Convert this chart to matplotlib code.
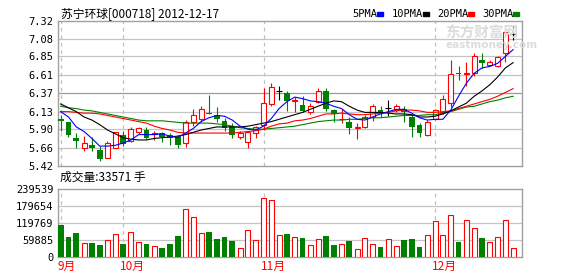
import numpy as np
import matplotlib
matplotlib.use("Agg")
import matplotlib.pyplot as plt

# daily K-line data, 2012-09-19 .. 2012-12-17
opens = [6.03, 5.99, 5.79, 5.66, 5.70, 5.63, 5.53, 5.66, 5.83, 5.74,
         5.86, 5.89, 5.84, 5.85, 5.83, 5.80, 5.72, 5.99, 6.03, 6.11,
         6.08, 6.01, 5.94, 5.80, 5.73, 5.85, 5.96, 6.23, 6.40, 6.37,
         6.27, 6.22, 6.12, 6.26, 6.40, 6.15, 6.03, 5.99, 5.92, 5.93,
         6.06, 6.15, 6.18, 6.15, 6.16, 6.06, 5.96, 5.83, 6.03, 6.12,
         6.24, 6.63, 6.62, 6.63, 6.81, 6.74, 6.72, 6.90, 7.14]
highs = [6.09, 5.99, 5.85, 5.81, 5.80, 5.68, 5.74, 5.87, 5.88, 5.93,
         5.93, 5.93, 5.88, 5.87, 5.85, 5.83, 6.02, 6.17, 6.20, 6.35,
         6.19, 6.05, 5.98, 5.88, 5.88, 5.94, 6.44, 6.50, 6.46, 6.40,
         6.32, 6.33, 6.24, 6.44, 6.44, 6.17, 6.17, 6.06, 5.98, 6.09,
         6.23, 6.20, 6.28, 6.23, 6.20, 6.09, 5.98, 6.02, 6.17, 6.35,
         6.80, 6.72, 6.78, 6.90, 6.90, 6.81, 6.86, 7.19, 7.25]
lows = [5.88, 5.80, 5.66, 5.61, 5.62, 5.49, 5.52, 5.66, 5.68, 5.73,
        5.84, 5.77, 5.76, 5.73, 5.70, 5.65, 5.67, 5.94, 6.00, 6.10,
        5.99, 5.88, 5.79, 5.77, 5.66, 5.78, 5.89, 6.20, 6.28, 6.14,
        6.12, 6.13, 6.10, 6.24, 6.14, 6.00, 5.98, 5.84, 5.77, 5.91,
        6.01, 6.06, 6.07, 6.12, 6.00, 5.80, 5.80, 5.81, 6.02, 6.10,
        6.19, 6.54, 6.46, 6.59, 6.70, 6.73, 6.71, 6.78, 7.07]
closes = [6.01, 5.82, 5.74, 5.72, 5.66, 5.51, 5.72, 5.86, 5.71, 5.90,
          5.91, 5.78, 5.85, 5.80, 5.78, 5.69, 5.99, 6.08, 6.16, 6.10,
          6.04, 5.91, 5.83, 5.85, 5.86, 5.93, 6.24, 6.45, 6.40, 6.27,
          6.28, 6.14, 6.21, 6.40, 6.16, 6.10, 6.04, 5.92, 5.93, 6.06,
          6.21, 6.11, 6.18, 6.21, 6.12, 5.93, 5.85, 5.99, 6.15, 6.30,
          6.62, 6.62, 6.63, 6.86, 6.77, 6.78, 6.84, 7.17, 7.14]
volumes = [113300, 71300, 86500, 50200, 51400, 43200, 60800, 81800, 47900, 88800,
           53800, 46700, 38600, 32700, 46700, 74800, 168300, 140200, 85300, 88800,
           64300, 71300, 57300, 31500, 94700, 59600, 206800, 199800, 77100, 81800,
           70100, 66600, 42100, 63100, 74800, 42100, 45600, 57300, 28000, 66600,
           45600, 36200, 63100, 38600, 60800, 64300, 36200, 77100, 126200, 77100,
           147200, 53800, 129700, 101700, 66600, 53800, 70100, 129700, 33571]

# moving averages as shown on the chart
ma5 = [6.13, 6.06, 5.93, 5.87, 5.78, 5.68, 5.68, 5.69, 5.72, 5.76, 5.83, 5.83,
       5.83, 5.84, 5.81, 5.79, 5.85, 5.91, 6.00, 6.05, 6.08, 6.07, 6.02, 5.94,
       5.90, 5.89, 5.94, 6.04, 6.17, 6.26, 6.32, 6.30, 6.27, 6.26, 6.24, 6.20,
       6.17, 6.09, 6.03, 6.02, 6.06, 6.10, 6.13, 6.16, 6.16, 6.11, 6.05, 6.02,
       6.03, 6.03, 6.15, 6.33, 6.50, 6.63, 6.70, 6.72, 6.76, 6.85, 6.94]
ma10 = [6.23, 6.18, 6.13, 6.06, 6.02, 5.96, 5.89, 5.84, 5.79, 5.77, 5.76, 5.76,
        5.78, 5.79, 5.80, 5.81, 5.83, 5.86, 5.89, 5.91, 5.93, 5.93, 5.93, 5.93,
        5.94, 5.96, 5.98, 6.00, 6.03, 6.06, 6.09, 6.12, 6.16, 6.20, 6.24, 6.27,
        6.26, 6.20, 6.15, 6.12, 6.12, 6.12, 6.11, 6.10, 6.10, 6.09, 6.06, 6.06,
        6.07, 6.10, 6.14, 6.19, 6.24, 6.33, 6.40, 6.48, 6.58, 6.70, 6.77]
ma20 = [6.13, 6.13, 6.12, 6.11, 6.11, 6.10, 6.08, 6.06, 6.04, 6.02, 6.00, 5.98,
        5.94, 5.91, 5.89, 5.86, 5.85, 5.85, 5.85, 5.85, 5.85, 5.85, 5.85, 5.86,
        5.87, 5.88, 5.90, 5.94, 5.97, 5.98, 6.01, 6.02, 6.04, 6.07, 6.10, 6.10,
        6.11, 6.10, 6.09, 6.09, 6.10, 6.11, 6.12, 6.14, 6.15, 6.15, 6.14, 6.12,
        6.12, 6.13, 6.14, 6.17, 6.20, 6.23, 6.26, 6.29, 6.33, 6.38, 6.43]
ma30 = [6.20, 6.18, 6.17, 6.15, 6.14, 6.12, 6.10, 6.08, 6.06, 6.04, 6.02, 6.01,
        6.01, 6.01, 6.00, 5.99, 5.98, 5.98, 5.98, 5.98, 5.97, 5.96, 5.94, 5.92,
        5.91, 5.90, 5.90, 5.91, 5.92, 5.93, 5.94, 5.96, 5.98, 6.00, 6.01, 6.02,
        6.02, 6.03, 6.03, 6.04, 6.05, 6.05, 6.06, 6.07, 6.08, 6.08, 6.08, 6.09,
        6.09, 6.11, 6.13, 6.16, 6.19, 6.20, 6.23, 6.26, 6.28, 6.31, 6.33]

price_ticks = [5.42, 5.66, 5.90, 6.13, 6.37, 6.61, 6.85, 7.08, 7.32]
price_labels = ["5.42", "5.66", "5.90", "6.13", "6.37", "6.61", "6.85", "7.08", "7.32"]
vol_ticks = [0, 59885, 119769, 179654, 239539]
month_idx = [0, 8, 26, 48]
month_names = ["9月", "10月", "11月", "12月"]

RED = "#FF0000"
GREEN = "#008000"
GRID = "#C4C4C4"
BORDER = "#A0A0A0"
CJK = ["Noto Sans CJK SC", "DejaVu Sans"]
MONO = "DejaVu Sans Mono"

o = np.array(opens)
h = np.array(highs)
l = np.array(lows)
c = np.array(closes)
v = np.array(volumes)
x = np.arange(len(o))
up = c > o
down = c < o
flat = c == o

W, H = 578, 276
fig = plt.figure(figsize=(W / 100, H / 100), dpi=100, facecolor="white")


def px_axes(left, top, right, bottom):
    return fig.add_axes([left / W, 1 - bottom / H, (right - left) / W, (bottom - top) / H])


# price panel
ax = px_axes(57.5, 20.5, 522, 166)
vax = px_axes(57.5, 189, 522, 257.3)

for a in (ax, vax):
    a.set_xlim(-0.41, 59.14)
    a.set_xticks([])
    for s in a.spines.values():
        s.set_color(BORDER)
        s.set_linewidth(1)
    a.tick_params(axis="y", length=0, pad=3, labelsize=7.5)
    for t in a.get_yticklabels():
        t.set_fontfamily(MONO)
    for m in month_idx:
        a.axvline(m, color="#C0C0C0", lw=0.9, ls=(0, (3, 3)), zorder=0)

ax.set_ylim(5.42, 7.32)
ax.set_yticks(price_ticks)
ax.set_yticklabels(price_labels, fontfamily=MONO, fontsize=7.5)
for p in price_ticks[1:-1]:
    ax.axhline(p, color="#9A9A9A" if p == 6.37 else GRID, lw=0.9, zorder=0)

# watermark
fig.text(445 / W, 1 - 33 / H, "东方财富网", fontsize=10.5, fontweight="bold",
         color="#DCDCDC", family=CJK, va="center", ha="left", zorder=0)
fig.text(445 / W, 1 - 45 / H, "eastmoney.com", fontsize=7.5, fontweight="bold",
         color="#DCDCDC", va="center", ha="left", zorder=0)

# candles
ax.vlines(x[up], l[up], h[up], color=RED, lw=0.8, zorder=2)
ax.vlines(x[down], l[down], h[down], color=GREEN, lw=0.8, zorder=2)
ax.vlines(x[flat], l[flat], h[flat], color="black", lw=0.8, zorder=2)
ax.bar(x[up], c[up] - o[up], bottom=o[up], width=0.62, facecolor="white",
       edgecolor=RED, lw=0.8, zorder=3)
ax.bar(x[down], np.maximum(o[down] - c[down], 0.008), bottom=c[down], width=0.72,
       color=GREEN, lw=0, zorder=3)
ax.hlines(c[flat], x[flat] - 0.4, x[flat] + 0.4, color="black", lw=0.8, zorder=3)

# moving averages
ax.plot(x, ma30, color=GREEN, lw=0.8, zorder=4)
ax.plot(x, ma20, color=RED, lw=0.8, zorder=4)
ax.plot(x, ma10, color="black", lw=0.8, zorder=4)
ax.plot(x, ma5, color="#0000FF", lw=0.8, zorder=4)

# volume panel
vax.set_ylim(0, 239539)
vax.set_yticks(vol_ticks)
vax.set_yticklabels([str(t) for t in vol_ticks], fontfamily=MONO, fontsize=7.5)
for t in vol_ticks[1:-1]:
    vax.axhline(t, color=GRID, lw=0.9, zorder=0)
vup = c >= o
vax.bar(x[vup], v[vup], width=0.62, facecolor="white", edgecolor=RED, lw=0.8, zorder=3)
vax.bar(x[~vup], v[~vup], width=0.74, color=GREEN, lw=0, zorder=3)

# month labels under volume panel
for m, name in zip(month_idx, month_names):
    vax.text(m - 0.35, -0.13, name, transform=vax.get_xaxis_transform(),
             color=RED, fontsize=8.5, family=CJK, ha="left", va="center")

# titles and legend
fig.text(61 / W, 1 - 14 / H, "苏宁环球[000718] 2012-12-17", fontsize=8.5,
         family=CJK, ha="left", va="center")
fig.text(60 / W, 1 - 177 / H, "成交量:%d 手" % volumes[-1], fontsize=8.5,
         family=CJK, ha="left", va="center")

legend = [("5PMA", "#0000FF", 352), ("10PMA", "black", 392),
          ("20PMA", RED, 437), ("30PMA", GREEN, 482)]
for name, col, px in legend:
    t = fig.text(px / W, 1 - 14 / H, name, fontsize=7.5, family=MONO,
                 ha="left", va="center")
    tx = px + 6.05 * len(name) + 1
    fig.patches.append(plt.Rectangle((tx / W, 1 - 15.5 / H), 6 / W, 3.5 / H,
                                     transform=fig.transFigure, color=col,
                                     figure=fig))

fig.savefig("out.png", dpi=100, facecolor="white")
